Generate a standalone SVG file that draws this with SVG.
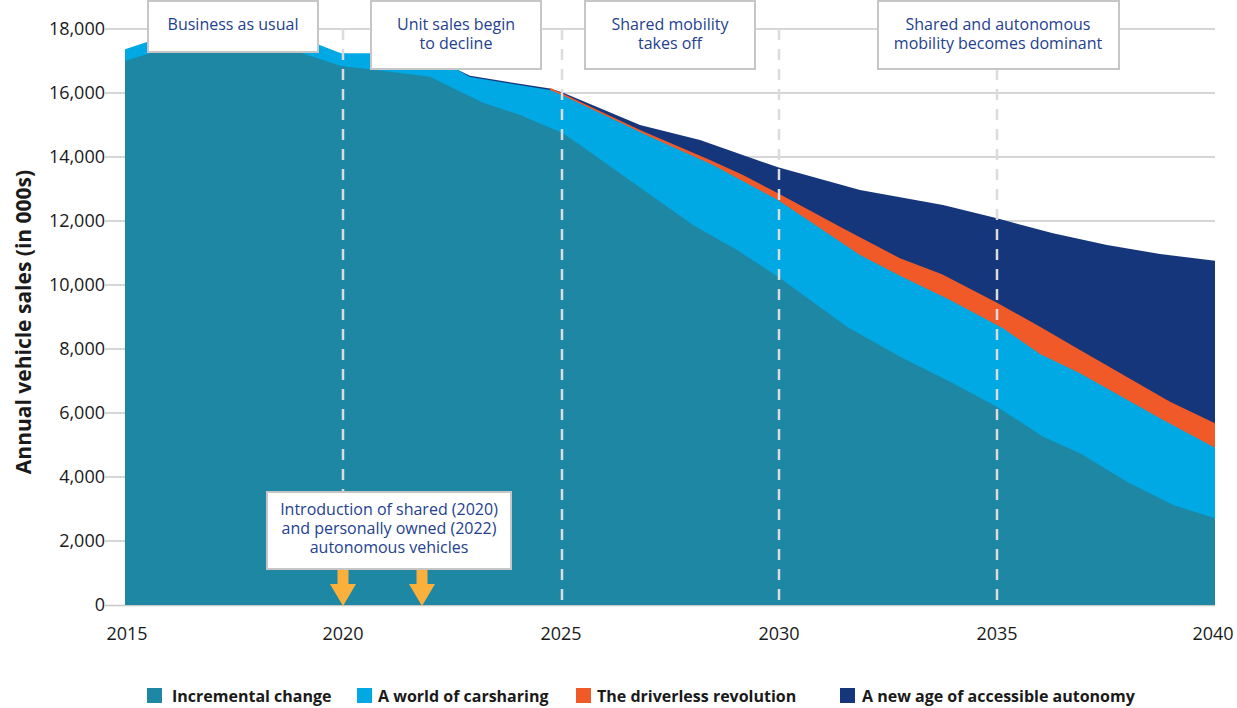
<svg xmlns="http://www.w3.org/2000/svg" width="1237" height="708" viewBox="0 0 1237 708">
<style>
.grid{stroke:#c8c8c8;stroke-width:1.5;fill:none}
.vdash{stroke:#dcdcdc;stroke-width:2.5;stroke-dasharray:11 9;fill:none}
.ax{font-family:"Open Sans","Liberation Sans",sans-serif;font-size:18px;fill:#1a1a1a}
.box rect{fill:#fff;stroke:#c6c6c6;stroke-width:2}
.box text{font-family:"Open Sans","Liberation Sans",sans-serif;font-size:16px;fill:#24418f;text-anchor:middle}
.leg{font-family:"Open Sans","Liberation Sans",sans-serif;font-size:16px;font-weight:bold;fill:#1a1a1a}
.arrow{fill:#fbb03b}
</style>
<rect width="1237" height="708" fill="#fff"/>
<g id="gridlines">
<line class="grid" x1="105" y1="29" x2="1215" y2="29"/>
<line class="grid" x1="105" y1="93" x2="1215" y2="93"/>
<line class="grid" x1="105" y1="157" x2="1215" y2="157"/>
<line class="grid" x1="105" y1="221" x2="1215" y2="221"/>
<line class="grid" x1="105" y1="285" x2="1215" y2="285"/>
<line class="grid" x1="105" y1="349" x2="1215" y2="349"/>
<line class="grid" x1="105" y1="413" x2="1215" y2="413"/>
<line class="grid" x1="105" y1="477" x2="1215" y2="477"/>
<line class="grid" x1="105" y1="541" x2="1215" y2="541"/>
<line class="grid" x1="105" y1="605.5" x2="1215" y2="605.5"/>
</g>
<g id="areas">
<path id="navy" fill="#15367b" d="M456,69 L470,75.8 L550,88.6 L562,92.3 L640,125 L700,140 L778,167.3 L860,190 L943,205 L997,218.3 L1053,233.3 L1107,245 L1160,254 L1215,260.7 L1215,605 L456,605 Z"/>
<path id="orange" fill="#f05a28" d="M550,90 L550,87.8 L562,93.3 L640,130 L710,160 L743,175 L778,193.3 L840,226.7 L900,258.3 L942,274.3 L997,302.7 L1040,326.7 L1080,350 L1170,401.7 L1215,423.3 L1215,605 L550,605 Z"/>
<path id="lightblue" fill="#00a9e4" d="M125,49.3 L147,42 L300,42 L317,44 L341,53.3 L370,53.3 L430,55 L456,69 L470,77 L550,90 L562,95 L650,136.7 L713,165 L778,200 L860,255 L900,275.7 L950,300 L1003,328.3 L1040,354 L1080,373.3 L1160,418.3 L1215,447.7 L1215,605 L125,605 Z"/>
<path id="teal" fill="#1d87a4" d="M125,61 L152,52.5 L300,52.5 L341,66 L370,69.3 L430,76.7 L483,102.7 L520,115 L562,132.7 L580,145 L653,196.7 L693,225 L737,250 L778,276.7 L847,326.7 L900,356.7 L950,381.7 L997,406.7 L1043,436.7 L1080,453.3 L1127,481.7 L1173,505 L1215,518.3 L1215,605 L125,605 Z"/>
</g>
<g id="milestone-lines">
<line class="vdash" x1="343" y1="29" x2="343" y2="605"/>
<line class="vdash" x1="562" y1="29" x2="562" y2="605"/>
<line class="vdash" x1="779" y1="29" x2="779" y2="605"/>
<line class="vdash" x1="997" y1="29" x2="997" y2="605"/>
</g>
<g id="y-axis" class="ax" text-anchor="end">
<text x="105" y="35">18,000</text>
<text x="105" y="99">16,000</text>
<text x="105" y="163">14,000</text>
<text x="105" y="227">12,000</text>
<text x="105" y="291">10,000</text>
<text x="105" y="355">8,000</text>
<text x="105" y="419">6,000</text>
<text x="105" y="483">4,000</text>
<text x="105" y="547">2,000</text>
<text x="105" y="611">0</text>
</g>
<text class="ax" font-weight="bold" font-size="21" text-anchor="middle" transform="translate(31,322) rotate(-90)" style="font-size:21px">Annual vehicle sales (in 000s)</text>
<g id="x-axis" class="ax" text-anchor="middle">
<text x="127" y="640">2015</text>
<text x="343" y="640">2020</text>
<text x="561" y="640">2025</text>
<text x="779" y="640">2030</text>
<text x="997" y="640">2035</text>
<text x="1213" y="640">2040</text>
</g>
<g id="box-business" class="box">
<rect x="148" y="1" width="170" height="51"/>
<text x="233" y="30">Business as usual</text>
</g>
<g id="box-unit-sales" class="box">
<rect x="371" y="1" width="170" height="68"/>
<text x="456" y="30">Unit sales begin</text>
<text x="456" y="49">to decline</text>
</g>
<g id="box-shared" class="box">
<rect x="585" y="1" width="170" height="68"/>
<text x="670" y="30">Shared mobility</text>
<text x="670" y="49">takes off</text>
</g>
<g id="box-autonomous" class="box">
<rect x="878" y="1" width="241" height="68"/>
<text x="998" y="30">Shared and autonomous</text>
<text x="998" y="49">mobility becomes dominant</text>
</g>
<g id="box-intro" class="box">
<rect x="267" y="492" width="244" height="77"/>
<text x="389" y="515">Introduction of shared (2020)</text>
<text x="389" y="534">and personally owned (2022)</text>
<text x="389" y="553">autonomous vehicles</text>
</g>
<g id="arrows">
<path class="arrow" d="M337.5,570 H348.5 V584 H356 L343,606 L330,584 H337.5 Z"/>
<path class="arrow" d="M416.5,570 H427.5 V584 H435 L422,606 L409,584 H416.5 Z"/>
</g>
<g id="legend">
<rect x="147" y="688" width="15" height="15" fill="#1d87a4"/>
<text class="leg" x="172" y="702">Incremental change</text>
<rect x="357" y="688" width="15" height="15" fill="#00a9e4"/>
<text class="leg" x="378" y="702">A world of carsharing</text>
<rect x="576" y="688" width="15" height="15" fill="#f05a28"/>
<text class="leg" x="597" y="702">The driverless revolution</text>
<rect x="840" y="688" width="15" height="15" fill="#15367b"/>
<text class="leg" x="862" y="702">A new age of accessible autonomy</text>
</g>
</svg>
